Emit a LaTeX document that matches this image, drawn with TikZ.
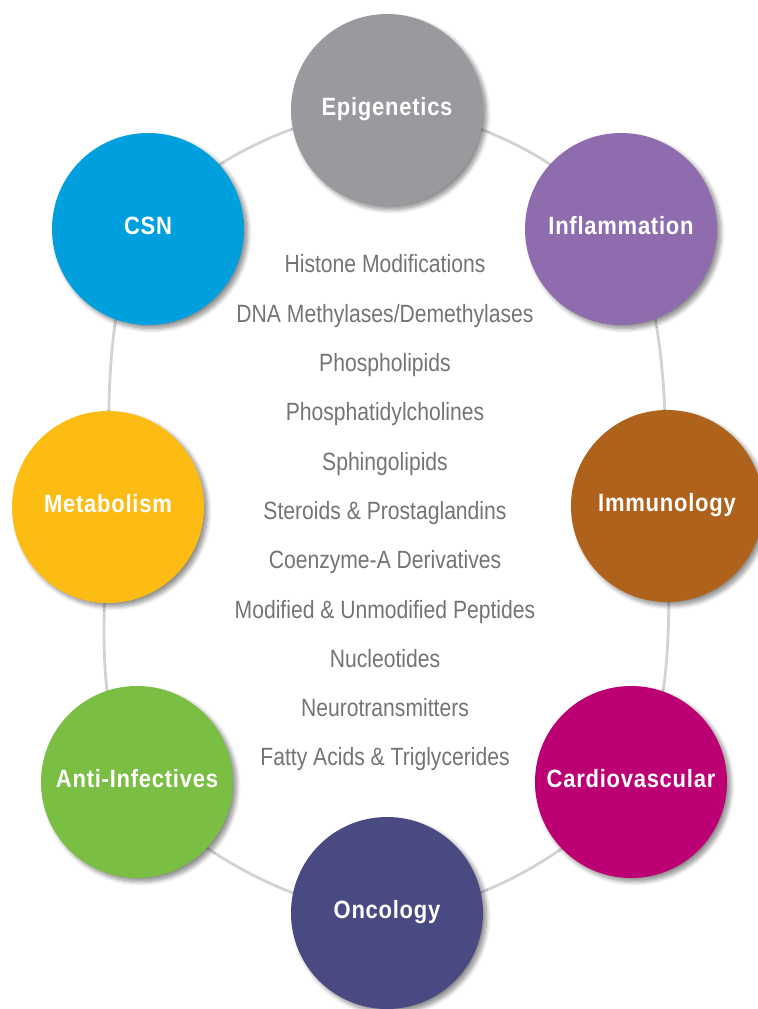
\documentclass[tikz,border=0pt]{standalone}
\usepackage{fontspec}
\setmainfont{Liberation Sans}[FakeStretch=0.845]
\newfontfamily\TagFont{Liberation Sans}[FakeStretch=0.88,LetterSpace=3]
\usetikzlibrary{shadows.blur,backgrounds}
\newcommand{\AreaFont}{\TagFont\bfseries\fontsize{12.5}{15}\selectfont}
\newcommand{\ListFont}{\fontsize{12.5}{24.65}\selectfont}
\definecolor{EpiFill}{RGB}{152,154,158}
\definecolor{InfFill}{RGB}{143,108,174}
\definecolor{CsnFill}{RGB}{0,160,222}
\definecolor{MetFill}{RGB}{252,188,20}
\definecolor{ImmFill}{RGB}{174,98,28}
\definecolor{AntFill}{RGB}{122,190,67}
\definecolor{CarFill}{RGB}{188,0,116}
\definecolor{OncFill}{RGB}{74,74,130}
\definecolor{RingDraw}{RGB}{210,211,213}
\definecolor{ListText}{RGB}{115,116,120}
\tikzset{
  every node/.style={align=center},
  line cap=round,
  %% base area circle
  area/.style={
    circle,
    minimum size=96pt,
    inner sep=0pt,
    text=white,
    text height=8.5pt,
    text depth=3.5pt,
    font=\AreaFont,
    blur shadow={shadow xshift=1.8pt, shadow yshift=-1.8pt,
                 shadow blur steps=8, shadow opacity=45},
  },
  %% research areas
  epiArea/.style={area, fill=EpiFill},
  infArea/.style={area, fill=InfFill},
  csnArea/.style={area, fill=CsnFill},
  metArea/.style={area, fill=MetFill},
  immArea/.style={area, fill=ImmFill},
  antArea/.style={area, fill=AntFill},
  carArea/.style={area, fill=CarFill},
  oncArea/.style={area, fill=OncFill},
  %% ring
  ring/.style={
    draw=RingDraw,
    line width=1.4pt,
  },
  %% compound list
  topicList/.style={
    font=\ListFont,
    text=ListText,
    inner sep=0pt,
  },
}

\begin{document}
\begin{tikzpicture}[x=0.5pt, y=-0.5pt]

\useasboundingbox (0,0) rectangle (757,1009);

%% ── Research areas ─────────────────────────────────────────────────────────
\node[epiArea] (EPI) at (387,110) {Epigenetics};
\node[infArea] (INF) at (621,229) {Inflammation};
\node[csnArea] (CSN) at (148,229) {CSN};
\node[metArea] (MET) at (108,507) {Metabolism};
\node[immArea] (IMM) at (667,506) {Immunology};
\node[antArea] (ANT) at (137,782) {Anti-Infectives};
\node[carArea] (CAR) at (631,782) {Cardiovascular};
\node[oncArea] (ONC) at (387,913) {Oncology};

%% ── Compound classes ───────────────────────────────────────────────────────
\node[topicList] (LIST) at (385,513) {%
  Histone Modifications\\
  DNA Methylases/Demethylases\\
  Phospholipids\\
  Phosphatidylcholines\\
  Sphingolipids\\
  Steroids \& Prostaglandins\\
  Coenzyme-A Derivatives\\
  Modified \& Unmodified Peptides\\
  Nucleotides\\
  Neurotransmitters\\
  Fatty Acids \& Triglycerides
};

%% ── Connecting ring ────────────────────────────────────────────────────────
\begin{scope}[on background layer]
  \draw[ring] plot[smooth cycle, tension=0.6] coordinates {
    (EPI.center) (INF.center) (IMM.center) (CAR.center)
    (ONC.center) (ANT.center) (MET.center) (CSN.center)};
\end{scope}

\end{tikzpicture}
\end{document}
